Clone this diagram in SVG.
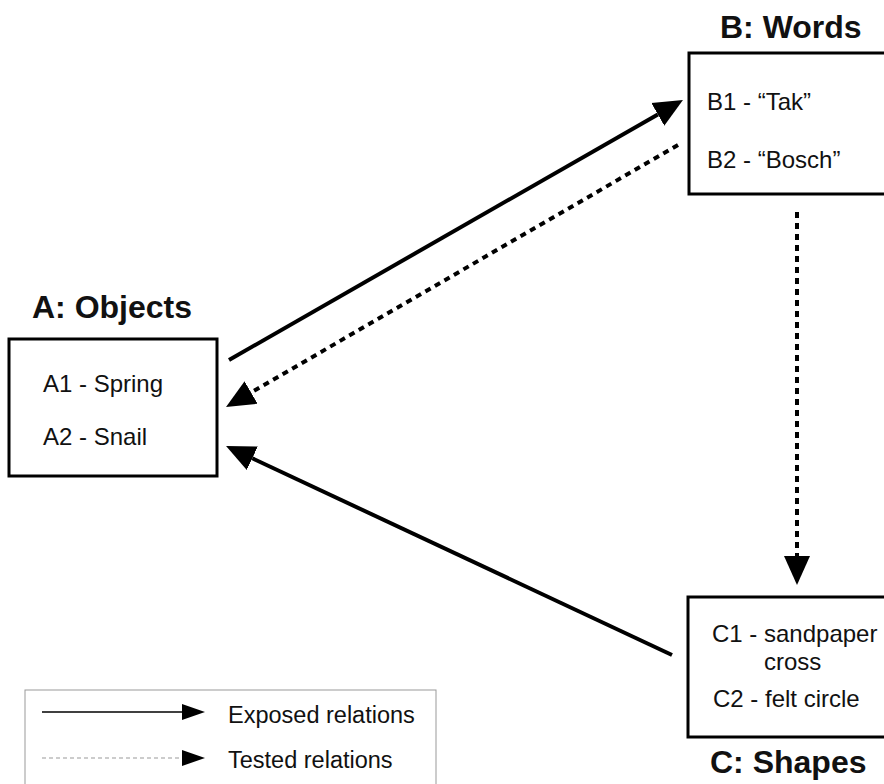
<svg xmlns="http://www.w3.org/2000/svg" width="884" height="784" viewBox="0 0 884 784">
  <style>
    .box { fill: #fff; stroke: #000; stroke-width: 3; }
    .title { font-family: "Liberation Sans", Arial, Helvetica, sans-serif; font-weight: bold; font-size: 32px; fill: #111; }
    .item { font-family: "Liberation Sans", Arial, Helvetica, sans-serif; font-size: 24px; fill: #111; }
    .leg { font-family: "Liberation Sans", Arial, Helvetica, sans-serif; font-size: 23.5px; fill: #111; }
    .solid { stroke: #000; stroke-width: 4; fill: none; }
    .dashed { stroke: #000; stroke-width: 4; fill: none; stroke-dasharray: 6 5; }
  </style>
  <defs>
    <marker id="arrow" markerUnits="userSpaceOnUse" markerWidth="31" markerHeight="28" refX="0" refY="13" orient="auto" viewBox="0 0 31 26">
      <path d="M0,0 L29,13 L0,26 Z" fill="#000"/>
    </marker>
    <marker id="arrowSmall" markerUnits="userSpaceOnUse" markerWidth="24" markerHeight="16" refX="0" refY="8" orient="auto" viewBox="0 0 24 16">
      <path d="M0,0 L23,8 L0,16 Z" fill="#000"/>
    </marker>
  </defs>

  <g id="connectors">
    <line class="solid" x1="229" y1="360" x2="657.8" y2="114.4" marker-end="url(#arrow)"/>
    <line class="dashed" x1="678" y1="145" x2="251.1" y2="392.5" marker-end="url(#arrow)"/>
    <line class="solid" x1="672" y1="655" x2="252.3" y2="458.3" marker-end="url(#arrow)"/>
    <line class="dashed" x1="797" y1="212" x2="797" y2="556" marker-end="url(#arrow)"/>
  </g>

  <g id="nodeA">
    <text class="title" x="32" y="318">A: Objects</text>
    <rect class="box" x="9" y="339" width="208" height="137"/>
    <text class="item" x="43" y="392">A1 - Spring</text>
    <text class="item" x="43" y="445">A2 - Snail</text>
  </g>

  <g id="nodeB">
    <text class="title" x="720" y="38">B: Words</text>
    <rect class="box" x="689" y="53" width="220" height="141"/>
    <text class="item" x="707" y="110">B1 - “Tak”</text>
    <text class="item" x="707" y="168">B2 - “Bosch”</text>
  </g>

  <g id="nodeC">
    <rect class="box" x="688" y="597" width="220" height="140"/>
    <text class="item" x="712" y="642">C1 - sandpaper</text>
    <text class="item" x="764" y="670">cross</text>
    <text class="item" x="713" y="707">C2 - felt circle</text>
    <text class="title" x="710" y="773">C: Shapes</text>
  </g>

  <g id="legend">
    <rect x="25" y="690" width="411" height="120" fill="none" stroke="#999" stroke-width="1"/>
    <line x1="42" y1="712" x2="182" y2="712" stroke="#000" stroke-width="1.5" marker-end="url(#arrowSmall)"/>
    <text class="leg" x="228" y="723">Exposed relations</text>
    <line x1="42" y1="758" x2="182" y2="758" stroke="#999" stroke-width="1" stroke-dasharray="4 3" marker-end="url(#arrowSmall)"/>
    <text class="leg" x="228" y="768">Tested relations</text>
  </g>
</svg>
